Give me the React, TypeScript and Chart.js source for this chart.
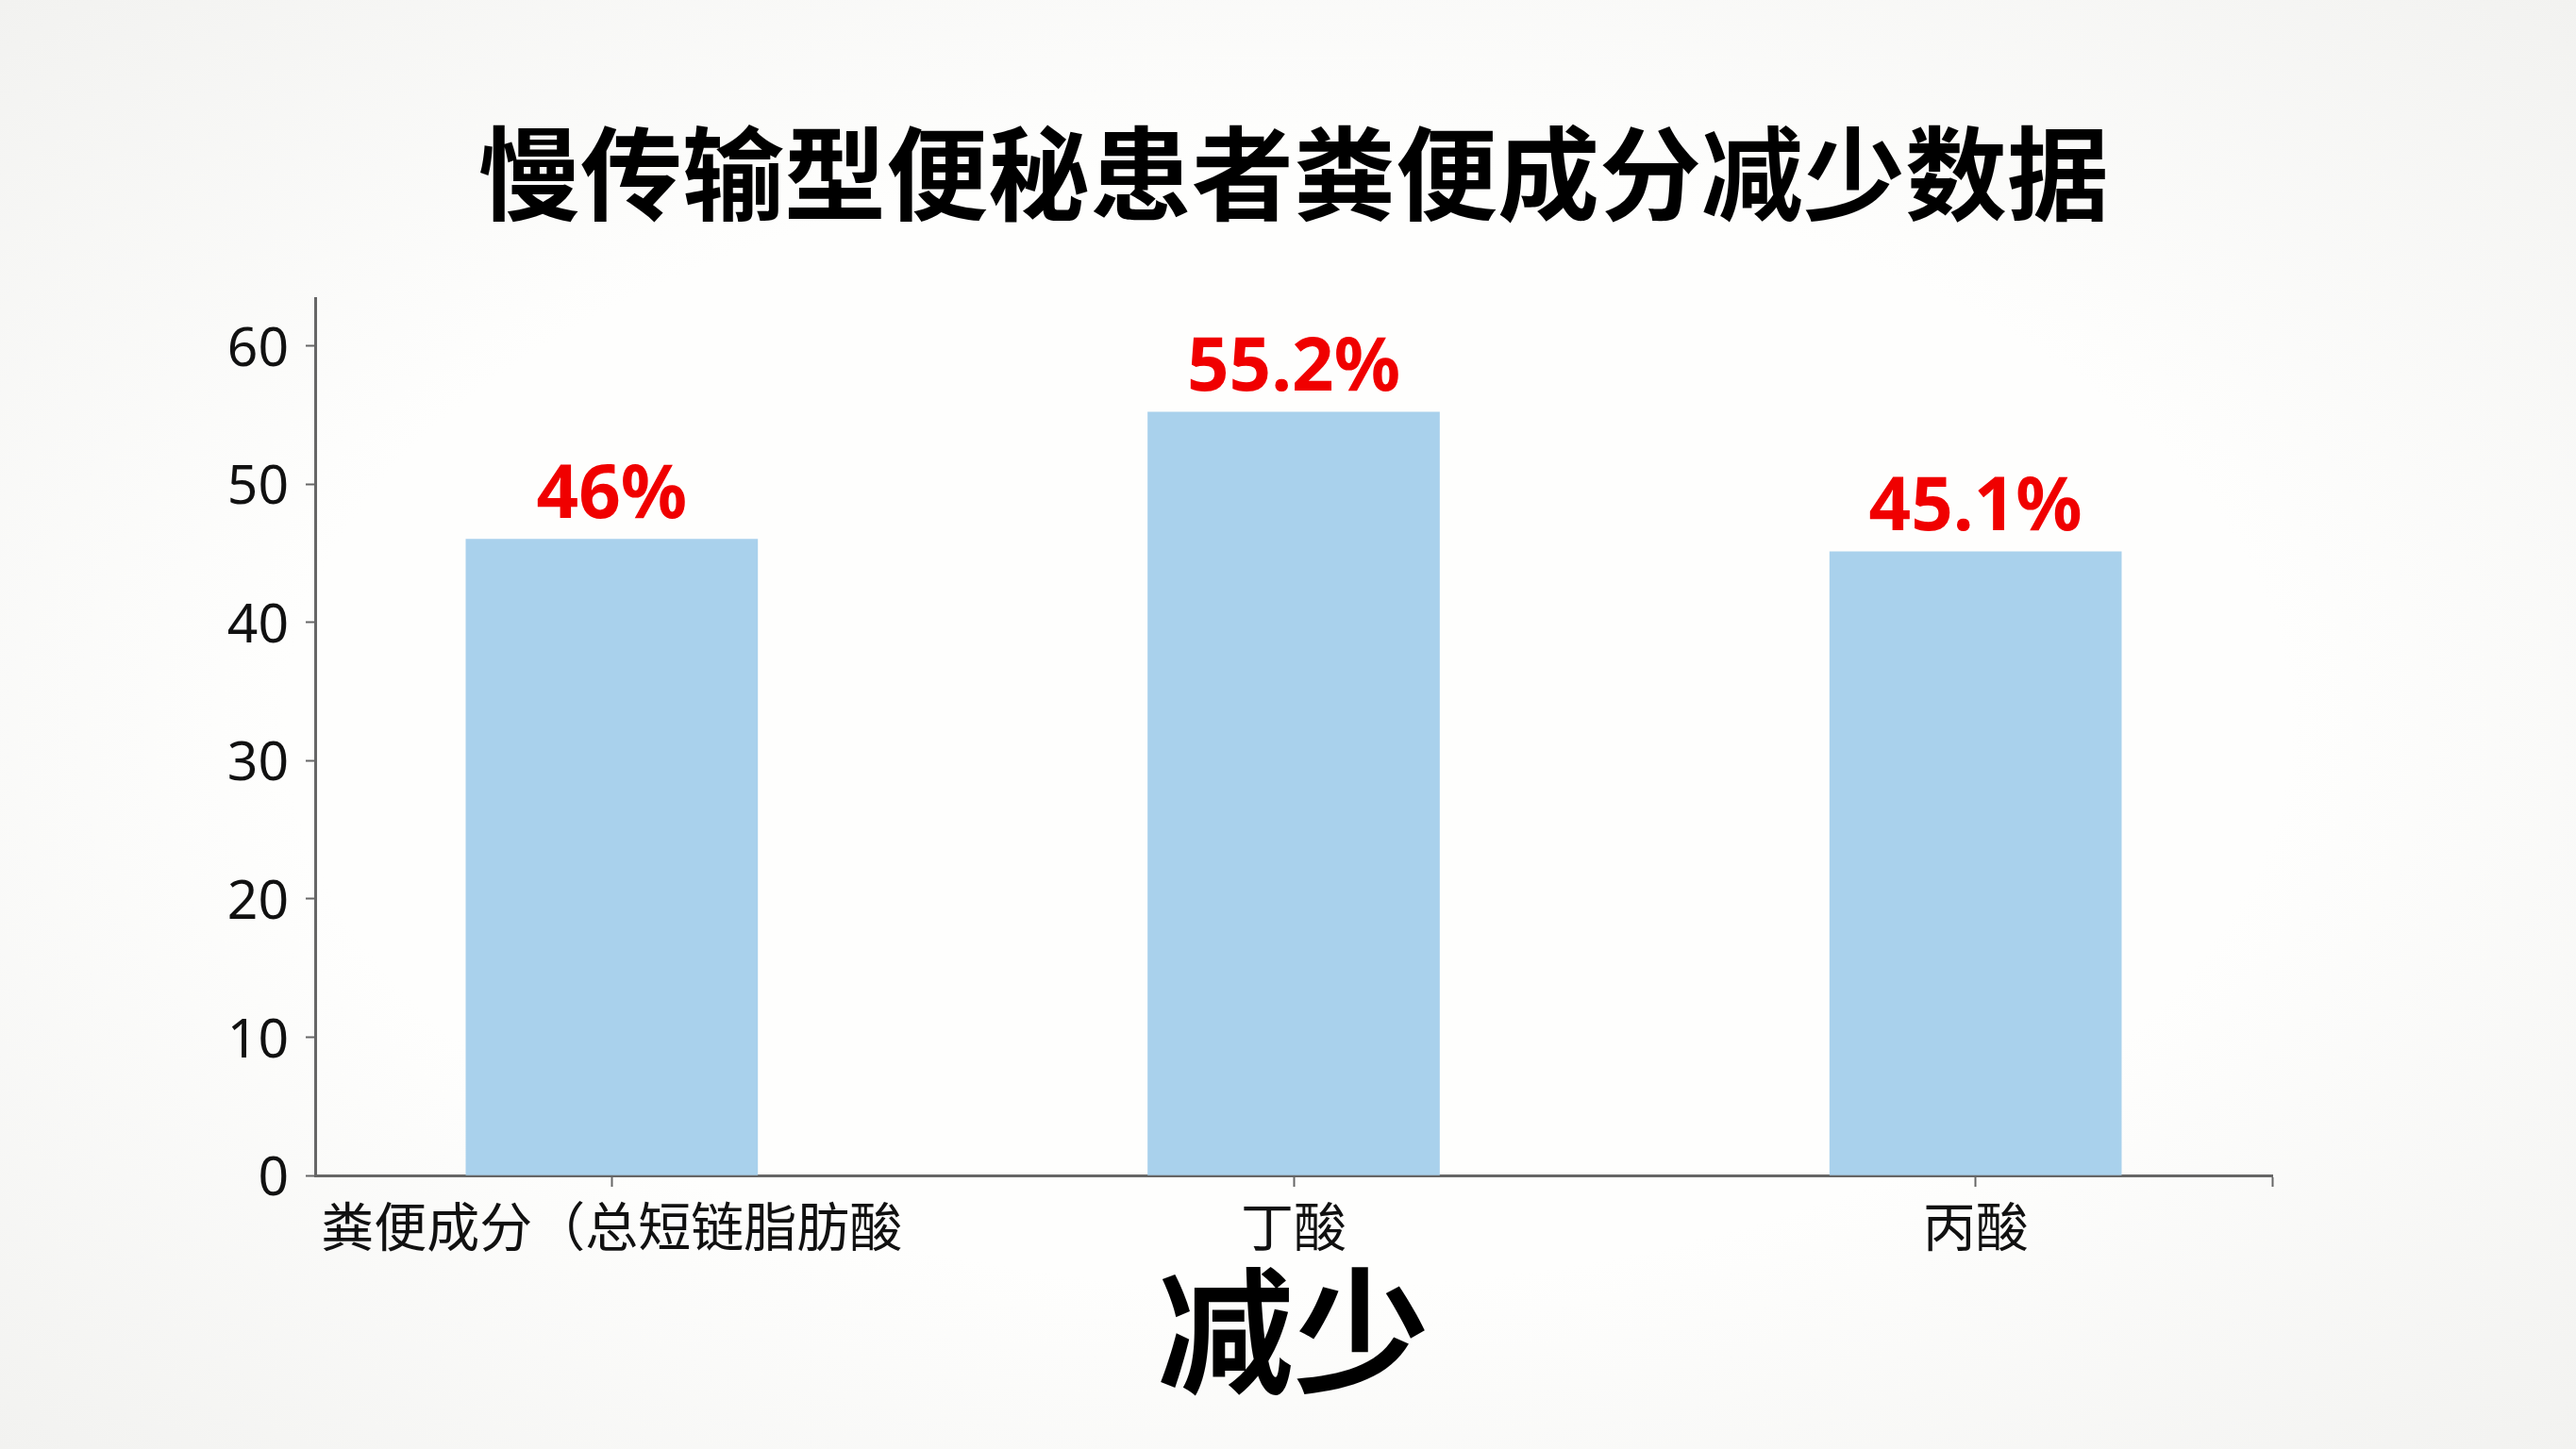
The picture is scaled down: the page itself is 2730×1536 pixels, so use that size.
import * as React from 'react';
import {useEffect, useRef} from "react";
import {Chart, registerables} from "chart.js";

Chart.register(...registerables);

const categories = ['粪便成分（总短链脂肪酸', '丁酸', '丙酸'];
const reductions = [46, 55.2, 45.1];
const yTicks = [0, 10, 20, 30, 40, 50, 60];
const chartTitle = '慢传输型便秘患者粪便成分减少数据';
const xTitle = '减少';

const CJK = "'Noto Sans CJK SC', 'Noto Sans', sans-serif";
const LATIN = "'Noto Sans', 'Noto Sans CJK SC', sans-serif";

// red percentage above every bar
const barLabels = {
  id: 'barLabels',
  afterDatasetsDraw(chart: Chart) {
    const ctx = chart.ctx;
    const meta = chart.getDatasetMeta(0);
    ctx.save();
    ctx.font = `bold 78px ${LATIN}`;
    ctx.fillStyle = '#f00000';
    ctx.textAlign = 'center';
    ctx.textBaseline = 'alphabetic';
    meta.data.forEach((bar: any, i: number) => {
      ctx.fillText(`${reductions[i]}%`, bar.x, bar.y - 23);
    });
    ctx.restore();
  }
};

export default function App() {
  const canvasRef = useRef<HTMLCanvasElement | null>(null);

  useEffect(() => {
    if (!canvasRef.current) return;
    const chart = new Chart(canvasRef.current, {
      type: 'bar',
      data: {
        datasets: [{
          data: reductions.map((v, i) => ({x: i, y: v})),
          backgroundColor: 'rgb(169, 209, 236)',
          borderWidth: 0,
          barThickness: 309,
        }]
      },
      options: {
        animation: false,
        responsive: true,
        maintainAspectRatio: false,
        devicePixelRatio: 1,
        layout: {padding: {left: 0, right: 322, top: 0, bottom: 0}},
        plugins: {
          legend: {display: false},
          tooltip: {enabled: false},
          title: {
            display: true,
            text: chartTitle,
            fullSize: false,
            color: '#000',
            font: {family: CJK, size: 108, weight: 'bold'},
            padding: {top: 119, bottom: 68},
          },
        },
        scales: {
          x: {
            type: 'linear',
            min: -0.435,
            max: 2.435,
            offset: false,
            afterBuildTicks: (scale: any) => {
              scale.ticks = [...categories.map((_, i) => ({value: i})), {value: scale.max}];
            },
            afterFit: (scale: any) => { scale.height = 290; },
            ticks: {
              autoSkip: false,
              maxRotation: 0,
              minRotation: 0,
              padding: 8,
              color: '#111',
              font: {family: CJK, size: 56},
              callback: (v: any) => categories[v] ?? '',
            },
            grid: {display: true, drawOnChartArea: false, offset: false, tickLength: 12, tickColor: '#666', tickWidth: 2},
            border: {display: true, color: '#666', width: 3},
            title: {
              display: true,
              text: xTitle,
              color: '#000',
              font: {family: CJK, size: 144, weight: 'bold'},
              padding: {top: 0, bottom: 38},
            },
          },
          y: {
            min: 0,
            max: 63.4,
            afterBuildTicks: (scale: any) => {
              scale.ticks = yTicks.map(v => ({value: v}));
            },
            afterFit: (scale: any) => { scale.width = 334; },
            ticks: {padding: 18, labelOffset: 5, color: '#111', font: {family: LATIN, size: 57}},
            grid: {drawOnChartArea: false, tickLength: 10, tickColor: '#666', tickWidth: 2},
            border: {display: true, color: '#666', width: 3},
          },
        },
      },
      plugins: [barLabels],
    } as any);
    return () => chart.destroy();
  }, []);

  return (
    <div style={{
      position: 'fixed', left: 0, top: 0, width: 2730, height: 1536,
      background: 'radial-gradient(ellipse at center, #fefefd 55%, #f2f2f0 100%)',
    }}>
      <canvas ref={canvasRef}></canvas>
    </div>
  );
}
